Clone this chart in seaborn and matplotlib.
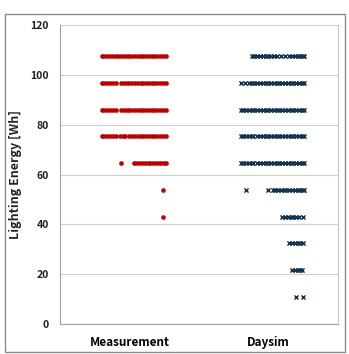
import numpy as np
import pandas as pd
import matplotlib.pyplot as plt
import seaborn as sns
from matplotlib.patches import Rectangle

# ---- data: energy levels and position of each point inside its category (1/100 of a slot)
categories = ["Measurement", "Daysim"]

meas_levels = [107.5, 96.7, 86.0, 75.3, 64.5, 53.8, 43.0]
meas_pos = [
    [-20, -18, -16, -14, -12, -10, -8, -6, -4, -2, 0, 2, 4, 6, 8, 10, 12, 14, 16, 18, 20, 22, 24, 26],
    [-20, -18, -16, -14, -12, -10, -6, -4, -2, 0, 2, 4, 6, 8, 10, 12, 14, 16, 18, 20, 22, 24, 26],
    [-20, -18, -16, -14, -12, -10, -6, -4, -2, 0, 2, 4, 6, 8, 10, 12, 14, 16, 18, 20, 22, 24, 26],
    [-20, -18, -16, -14, -12, -10, -7, -5, -3, 0, 2, 4, 6, 8, 10, 12, 14, 16, 18, 20, 22, 24, 26],
    [-6, 3, 5, 7, 9, 11, 13, 15, 17, 19, 21, 23, 25, 26],
    [24],
    [24],
]

daysim_levels = [107.5, 96.7, 86.0, 75.3, 64.5, 53.8, 43.0, 32.3, 21.5, 10.8]
daysim_pos = [
    [-12, -10, -8, -6, -4, -2, 0, 2, 4, 6, 9, 12, 15, 17, 19, 21, 23, 25, 26],
    [-20, -17, -14, -12, -10, -8, -6, -4, -2, 0, 2, 4, 6, 8, 10, 12, 14, 16, 18, 20, 22, 24, 26],
    [-20, -18, -16, -14, -12, -10, -8, -6, -4, -2, 0, 2, 4, 6, 8, 10, 12, 14, 16, 18, 20, 22, 24, 26],
    [-20, -18, -16, -14, -12, -11, -8, -6, -4, -2, 0, 2, 4, 6, 8, 10, 12, 14, 16, 18, 20, 22, 24, 26],
    [-20, -18, -16, -14, -12, -11, -8, -6, -4, -2, 0, 2, 4, 6, 8, 10, 12, 14, 16, 18, 20, 22, 24, 26],
    [-16, 0, 3, 5, 7, 9, 11, 13, 15, 17, 19, 21, 23, 25, 26],
    [10, 12, 14, 16, 18, 20, 22, 25],
    [15, 17, 19, 21, 23, 25],
    [17, 19, 21, 23, 24],
    [20, 25],
]


def to_frame(name, levels, pos):
    rows = []
    code = categories.index(name)
    for lv, ps in zip(levels, pos):
        for p in ps:
            rows.append({"source": name, "energy": lv, "x": code + p / 100})
    return pd.DataFrame(rows)


df_meas = to_frame("Measurement", meas_levels, meas_pos)
df_days = to_frame("Daysim", daysim_levels, daysim_pos)

# ---- figure
sns.set_style("white")
plt.rcParams["font.family"] = ["Noto Sans CJK KR", "DejaVu Sans"]

fig = plt.figure(figsize=(3.49, 3.54), dpi=100)
ax = fig.add_axes([0.172, 0.085, 0.796, 0.844])

sns.scatterplot(data=df_meas, x="x", y="energy", ax=ax, color="#C00000",
                marker="o", s=9, edgecolor="#B00000", linewidth=0.3, legend=False, zorder=3)
sns.scatterplot(data=df_days, x="x", y="energy", ax=ax, color="#14304F",
                marker="x", s=9, linewidth=1.0, legend=False, zorder=3)

ax.set_xlim(-0.5, 1.5)
ax.set_ylim(0, 120)
ax.set_yticks(np.arange(0, 121, 20))
ax.set_xticks([0, 1])
ax.set_xticklabels(categories, fontsize=8.5, fontweight="bold", color="black")
for t in ax.get_yticklabels():
    t.set_fontsize(7.5)
    t.set_fontweight("bold")
    t.set_color("#202020")

ax.yaxis.grid(True, color="#D0D0D0", linewidth=0.8)
ax.set_axisbelow(True)
ax.tick_params(axis="y", length=3, color="#A0A0A0", pad=5)
ax.tick_params(axis="x", length=0, pad=9)

ax.spines["top"].set_visible(False)
ax.spines["left"].set_color("#A0A0A0")
ax.spines["bottom"].set_color("#A0A0A0")
ax.spines["right"].set_color("#C8C8C8")

ax.set_xlabel("")
ax.set_ylabel("Lighting Energy [Wh]", fontsize=9, fontweight="bold", labelpad=6)

# outer chart frame
fig.patches.append(Rectangle((0.014, 0.006), 0.975, 0.954, transform=fig.transFigure,
                             fill=False, edgecolor="#8C8C8C", linewidth=1.0))

fig.savefig("out.png", dpi=100)
